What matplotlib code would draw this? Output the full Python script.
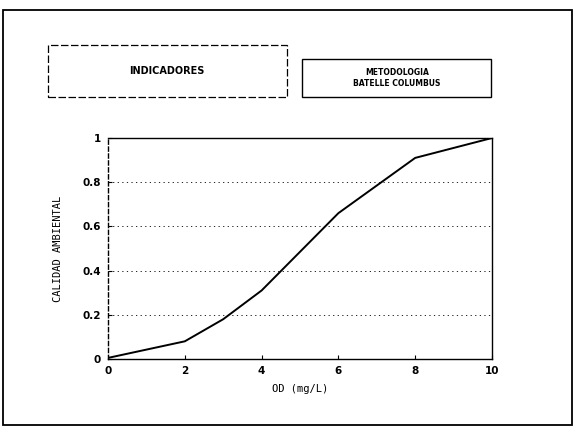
import matplotlib
matplotlib.use("Agg")
import matplotlib.pyplot as plt
from matplotlib.patches import Rectangle

od = [0, 2, 3, 4, 6, 8, 10]
calidad = [0.005, 0.08, 0.18, 0.31, 0.66, 0.91, 1.0]
xticks = [0, 2, 4, 6, 8, 10]
yticks = [0, 0.2, 0.4, 0.6, 0.8, 1]
yticklabels = ["0", "0.2", "0.4", "0.6", "0.8", "1"]

fig = plt.figure(figsize=(5.75, 4.32), dpi=100)
fig.patch.set_facecolor("white")

# outer frame
fig.add_artist(Rectangle((3/575, 1-425/432), 569/575, 415/432, transform=fig.transFigure,
                         fill=False, lw=1.3, ec="black"))
# header boxes
fig.add_artist(Rectangle((48/575, 1-97/432), 239/575, 52/432, transform=fig.transFigure,
                         fill=False, lw=0.9, ec="black", ls=(0, (6, 2))))
fig.text(167/575, 1-71/432, "INDICADORES", ha="center", va="center", fontsize=7,
         fontweight="bold", family="DejaVu Sans")
fig.add_artist(Rectangle((302/575, 1-97/432), 189/575, 38/432, transform=fig.transFigure,
                         fill=False, lw=1.0, ec="black"))
fig.text(397/575, 1-78/432, "METODOLOGIA\nBATELLE COLUMBUS", ha="center", va="center",
         fontsize=5.5, fontweight="bold", family="DejaVu Sans", linespacing=1.2)

ax = fig.add_axes([108/575, 1-359/432, 384/575, 221/432])
ax.plot(od, calidad, color="black", lw=1.4)
ax.set_xlim(0, 10)
ax.set_ylim(0, 1)
ax.set_xticks(xticks)
ax.set_yticks(yticks)
ax.set_yticklabels(yticklabels)
for y in yticks[1:-1]:
    ax.axhline(y, color="black", lw=0.6, ls=(0, (1.5, 4)))
ax.tick_params(direction="in", length=3, labelsize=7.5, width=0.8, pad=5)
for lab in ax.get_xticklabels() + ax.get_yticklabels():
    lab.set_fontweight("bold")
ax.spines["left"].set_linestyle((0, (3, 2)))
for s in ax.spines.values():
    s.set_linewidth(1.0)
ax.set_xlabel("OD (mg/L)", fontsize=7.5, family="DejaVu Sans Mono", labelpad=6)
ax.set_ylabel("CALIDAD AMBIENTAL", fontsize=7.5, family="DejaVu Sans Mono", labelpad=14)

fig.savefig("out.png", dpi=100, facecolor="white")
